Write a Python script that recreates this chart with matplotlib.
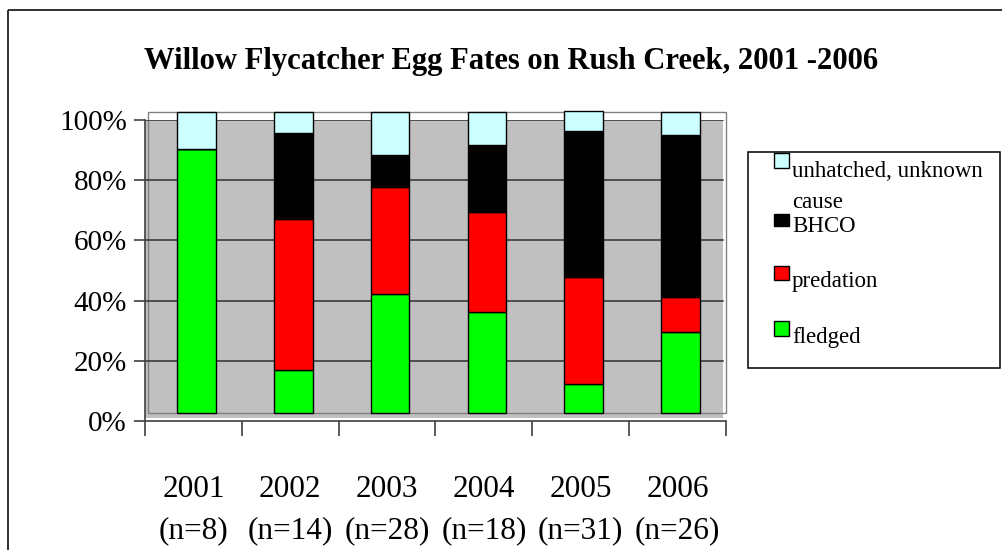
import matplotlib
matplotlib.use('Agg')
import matplotlib.pyplot as plt
import matplotlib.transforms as mtransforms
from matplotlib.patches import Rectangle

plt.rcParams['font.family'] = ['Liberation Serif', 'DejaVu Serif']

# egg fates in percent of eggs per year
years = ['2001', '2002', '2003', '2004', '2005', '2006']
n_eggs = [8, 14, 28, 18, 31, 26]
fledged = [87.5, 14.3, 39.3, 33.3, 9.7, 26.9]
predation = [0.0, 50.0, 35.7, 33.3, 35.5, 11.5]
bhco = [0.0, 28.6, 10.7, 22.2, 48.4, 53.8]
unhatched = [12.5, 7.1, 14.3, 11.1, 6.5, 7.7]

series = [('fledged', fledged, '#00ff00'),
          ('predation', predation, '#ff0000'),
          ('BHCO', bhco, '#000000'),
          ('unhatched, unknown cause', unhatched, '#ccffff')]

W, H = 1003, 550
fig = plt.figure(figsize=(W / 100, H / 100), dpi=100)

ax = fig.add_axes([145 / W, (H - 421) / H, 581 / W, 301 / H])
ax.set_xlim(-0.5, 5.5)
ax.set_ylim(0, 100)
ax.set_facecolor('none')

# grey back wall and its outline (excel 3d style)
ax.add_patch(Rectangle((0, 3 / 301), 578 / 581, 1 - 3 / 301, transform=ax.transAxes,
                       fc='#c0c0c0', ec='none', zorder=0))
ax.add_patch(Rectangle((3 / 581, 8.3 / 301), 1 - 3 / 581, 1.0, transform=ax.transAxes,
                       fill=False, ec='#808080', lw=1, clip_on=False, zorder=1))
for v in [20, 40, 60, 80, 100]:
    ax.axhline(v, xmin=0, xmax=578 / 581, color='#303030', lw=1.1, zorder=1)

# bars are shifted up/right like the 3d depth
shift = mtransforms.ScaledTranslation(3 / 100, 8.3 / 100, fig.dpi_scale_trans)
x = list(range(len(years)))
bottom = [0.0] * len(years)
for name, vals, col in series:
    ax.bar(x, vals, 0.4, bottom=bottom, color=col, edgecolor='black', lw=1,
           transform=ax.transData + shift, clip_on=False, zorder=3)
    bottom = [b + v for b, v in zip(bottom, vals)]

for s in ['top', 'right']:
    ax.spines[s].set_visible(False)
for s in ['left', 'bottom']:
    ax.spines[s].set_color('#404040')
    ax.spines[s].set_linewidth(1.2)

ax.set_yticks([0, 20, 40, 60, 80, 100])
ax.set_yticklabels(['0%', '20%', '40%', '60%', '80%', '100%'])
ax.tick_params(axis='y', length=8, width=1.2, color='#404040', pad=5, labelsize=21)

ax.set_xticks([i - 0.5 for i in range(7)])
ax.set_xticklabels([])
ax.set_xticks(x, minor=True)
ax.set_xticklabels([f'{y}\n(n={n})' for y, n in zip(years, n_eggs)], minor=True)
ax.tick_params(axis='x', which='major', length=11, width=1.2, color='#404040')
ax.tick_params(axis='x', which='minor', length=0, pad=39, labelsize=22.5)
for lab in ax.get_xticklabels(minor=True):
    lab.set_linespacing(1.55)

# overlay in pixel coords for title, frame and legend
ov = fig.add_axes([0, 0, 1, 1], zorder=5)
ov.set_xlim(0, W)
ov.set_ylim(H, 0)
ov.axis('off')
ov.add_patch(Rectangle((8, 10), W, H, fill=False, ec='#202020', lw=1.3))
ov.text(511, 69, 'Willow Flycatcher Egg Fates on Rush Creek, 2001 -2006',
        ha='center', va='baseline', fontsize=22.1, fontweight='bold')

ov.add_patch(Rectangle((748, 152), 252, 216, fill=False, ec='black', lw=1.1))
patches = [(153, 15, '#ccffff'), (214, 12, '#000000'),
           (265.7, 14.5, '#ff0000'), (321, 14.5, '#00ff00')]
for top, h, col in patches:
    ov.add_patch(Rectangle((774.5, top), 14.5, h, fc=col, ec='black', lw=1))
for txt, yb in [('unhatched, unknown', 177), ('cause', 208), ('BHCO', 231.5),
                ('predation', 286.5), ('fledged', 342.5)]:
    ov.text(792, yb, txt, ha='left', va='baseline', fontsize=16.5)

fig.savefig('out.png', dpi=100)
